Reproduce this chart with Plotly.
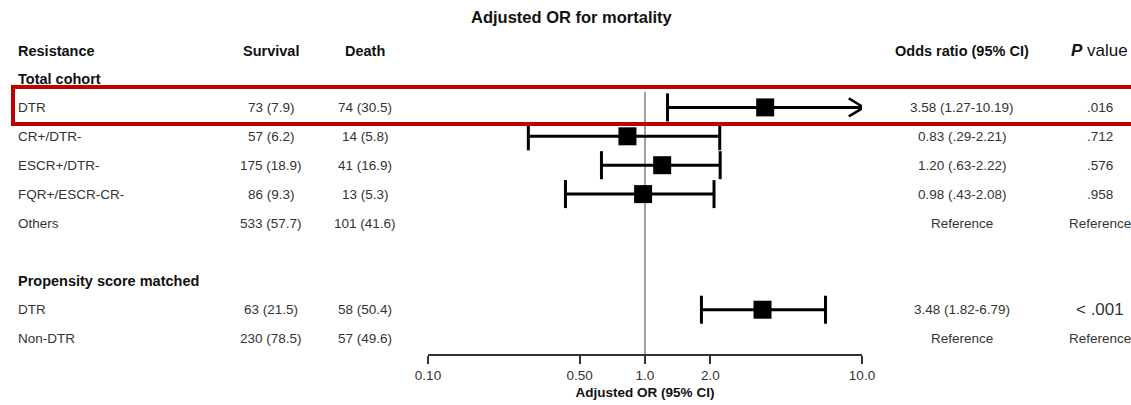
import plotly.graph_objects as go

# ---------------- data ----------------
sections = ["Total cohort", "Propensity score matched"]
section_sizes = [5, 2]
labels = ["DTR", "CR+/DTR-", "ESCR+/DTR-", "FQR+/ESCR-CR-", "Others", "DTR", "Non-DTR"]
survival_n = [73, 57, 175, 86, 533, 63, 230]
survival_pct = [7.9, 6.2, 18.9, 9.3, 57.7, 21.5, 78.5]
death_n = [74, 14, 41, 13, 101, 58, 57]
death_pct = [30.5, 5.8, 16.9, 5.3, 41.6, 50.4, 49.6]
or_est = [3.58, 0.83, 1.20, 0.98, None, 3.48, None]
ci_low = [1.27, 0.29, 0.63, 0.43, None, 1.82, None]
ci_high = [10.19, 2.21, 2.22, 2.08, None, 6.79, None]
p_values = [".016", ".712", ".576", ".958", "Reference", "< .001", "Reference"]
tick_vals = [0.1, 0.5, 1.0, 2.0, 10.0]
tick_text = ["0.10", "0.50", "1.0", "2.0", "10.0"]
x_min, x_max = 0.1, 10.0

# ---------------- layout geometry (pixels) ----------------
W, H = 1131, 405
PLOT_L, PLOT_R = 428, 862
PLOT_BOTTOM = 354
ROW0_PX, ROW_PX = 78.5, 28.9
FONT = "Liberation Sans, Arial, sans-serif"
DATA_SIZE = 13.5
HEAD_SIZE = 14.5
LEFT_X = 16


def xp(px):
    return (px - PLOT_L) / (PLOT_R - PLOT_L)


def yp(py):
    return (PLOT_BOTTOM - py) / PLOT_BOTTOM


def row_px(k):
    return ROW0_PX + ROW_PX * k


# row indices
section_rows = []
item_rows = []
k = 0
for s, n in zip(sections, section_sizes):
    section_rows.append(k)
    item_rows.extend(range(k + 1, k + 1 + n))
    k += n + 2


def fmt_ci(v):
    s = f"{v:.2f}"
    return s[1:] if v < 1 else s


fig = go.Figure()

ann = []


def text(px, py, t, size=DATA_SIZE, anchor="center", color="#333333"):
    ann.append(dict(x=xp(px), y=yp(py), xref="paper", yref="paper", text=t,
                    showarrow=False, xanchor=anchor, yanchor="middle",
                    font=dict(family=FONT, size=size, color=color)))


# header
text(572, 17, "<b>Adjusted OR for mortality</b>", 16.5, color="#111111")
hy = 51
text(LEFT_X, hy, "<b>Resistance</b>", HEAD_SIZE, "left", "#111111")
text(271, hy, "<b>Survival</b>", HEAD_SIZE, color="#111111")
text(365, hy, "<b>Death</b>", HEAD_SIZE, color="#111111")
text(962, hy, "<b>Odds ratio (95% CI)</b>", HEAD_SIZE, color="#111111")
text(1099, hy, "<b><i>P</i></b> value", 17, color="#111111")

for s, r in zip(sections, section_rows):
    text(LEFT_X, row_px(r), f"<b>{s}</b>", HEAD_SIZE, "left", "#111111")

for i, r in enumerate(item_rows):
    y = row_px(r)
    text(LEFT_X, y, labels[i], DATA_SIZE, "left")
    text(271, y, f"{survival_n[i]} ({survival_pct[i]})")
    text(365, y, f"{death_n[i]} ({death_pct[i]})")
    if or_est[i] is None:
        text(962, y, "Reference")
    else:
        text(962, y, f"{or_est[i]:.2f} ({fmt_ci(ci_low[i])}-{fmt_ci(ci_high[i])})")
    p = p_values[i]
    text(1100, y, p, 17 if p.startswith("<") else DATA_SIZE)

# ---------------- marks ----------------
k_top = -ROW0_PX / ROW_PX
k_bot = (PLOT_BOTTOM - ROW0_PX) / ROW_PX
line_style = dict(color="black", width=3)

for i, r in enumerate(item_rows):
    if or_est[i] is None:
        continue
    lo, hi = ci_low[i], ci_high[i]
    fig.add_trace(go.Scatter(x=[lo, hi], y=[r, r], mode="lines", line=line_style,
                             cliponaxis=False, showlegend=False, hoverinfo="skip"))
    caps = [lo] if hi > x_max else [lo, hi]
    fig.add_trace(go.Scatter(x=caps, y=[r] * len(caps), mode="markers",
                             marker=dict(symbol="line-ns", size=20,
                                         line=dict(color="black", width=3)),
                             cliponaxis=False, showlegend=False, hoverinfo="skip"))
    if hi > x_max:
        back = 10 ** (-15 / (PLOT_R - PLOT_L) * 2)
        fig.add_trace(go.Scatter(x=[hi * back, hi, hi * back], y=[r - 0.31, r, r + 0.31],
                                 mode="lines", line=dict(color="black", width=2.5),
                                 cliponaxis=False, showlegend=False, hoverinfo="skip"))

est_x = [or_est[i] for i, r in enumerate(item_rows) if or_est[i] is not None]
est_y = [r for i, r in enumerate(item_rows) if or_est[i] is not None]
fig.add_trace(go.Scatter(x=est_x, y=est_y, mode="markers",
                         marker=dict(symbol="square", size=18, color="black",
                                     line=dict(width=0)),
                         cliponaxis=False, showlegend=False, hoverinfo="skip"))

shapes = [
    dict(type="line", xref="x", yref="paper", x0=1, x1=1, y0=0, y1=yp(92),
         line=dict(color="#808080", width=1.5), layer="below"),
    dict(type="rect", xref="paper", yref="paper", x0=xp(13), x1=xp(1145),
         y0=yp(87), y1=yp(124), line=dict(color="#C00000", width=4),
         fillcolor="rgba(0,0,0,0)"),
]

fig.update_layout(
    width=W, height=H,
    margin=dict(l=PLOT_L, r=W - PLOT_R, t=0, b=H - PLOT_BOTTOM, pad=0),
    paper_bgcolor="white", plot_bgcolor="white",
    annotations=ann, shapes=shapes,
    xaxis=dict(type="log", range=[-1, 1], tickvals=tick_vals, ticktext=tick_text,
               ticks="outside", ticklen=8, tickwidth=2, tickcolor="#333333",
               showline=True, linewidth=2, linecolor="#333333", showgrid=False,
               zeroline=False, tickfont=dict(family=FONT, size=DATA_SIZE, color="#333333"),
               title=dict(text="<b>Adjusted OR (95% CI)</b>", standoff=5,
                          font=dict(family=FONT, size=DATA_SIZE, color="#111111"))),
    yaxis=dict(visible=False, range=[k_bot, k_top]),
)

fig.write_html("out.html")
